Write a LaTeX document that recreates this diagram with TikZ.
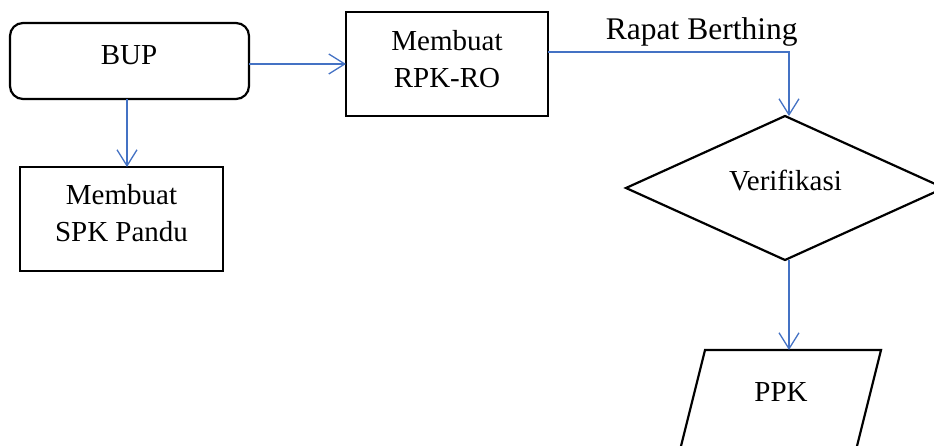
\documentclass[tikz,border=0pt]{standalone}
\usepackage{fontspec}
\setmainfont{Liberation Serif}
\usetikzlibrary{arrows.meta,shapes.geometric}
\definecolor{lnblue}{HTML}{4472C4}
\begin{document}
\begin{tikzpicture}[x=1pt,y=-1pt,
  shp/.style={draw=black, line width=2.2pt, inner sep=0pt, outer sep=0pt},
  txt/.style={font=\fontsize{29}{37}\selectfont, inner sep=0pt, align=center},
  conn/.style={draw=lnblue, line width=1.3pt, -{Straight Barb[length=16pt,width=20pt]}},
  ]
\useasboundingbox (0,0) rectangle (934,446);
\clip (0,0) rectangle (934,446);
% shapes
\node[shp, rounded corners=13pt, minimum width=239pt, minimum height=76pt] (bup) at (129.5,61) {};
\node[shp, minimum width=203pt, minimum height=104pt] (spk) at (121.5,219) {};
\node[shp, minimum width=202pt, minimum height=104pt] (rpk) at (447,64) {};
\node[shp, diamond, minimum width=318pt, minimum height=144pt] (ver) at (785,188) {};
\draw[shp, line join=miter] (705,350) -- (881,350) -- (855.5,452) -- (679.5,452) -- cycle;
\coordinate (ppktop) at (789,350);
% texts
\node[txt, anchor=base] (buptext) at (129,65) {BUP};
\node[txt] (spktext) at (121.5,213.5) {Membuat\\SPK Pandu};
\node[txt] (rpktext) at (447,58.6) {Membuat\\RPK-RO};
\node[txt, anchor=base] (vertext) at (785.5,190.7) {Verifikasi};
\node[txt, anchor=base] (ppktext) at (781,401.7) {PPK};
\node[font=\fontsize{31.5}{38}\selectfont, inner sep=0pt, anchor=base] (rapat) at (701.7,39.3) {Rapat Berthing};
% connectors
\coordinate (a1) at ([xshift=-2.5pt]bup.south);
\draw[conn] (a1) -- (a1 |- spk.north);
\draw[conn] (bup.east |- rpk.west) -- (rpk.west);
\coordinate (r1) at ([yshift=12pt]rpk.east);
\coordinate (v1) at ([xshift=4pt]ver.north);
\draw[conn] (r1) -| (v1);
\coordinate (v2) at ([xshift=4pt]ver.south);
\draw[conn] (v2) -- (v2 |- ppktop);
\end{tikzpicture}
\end{document}
